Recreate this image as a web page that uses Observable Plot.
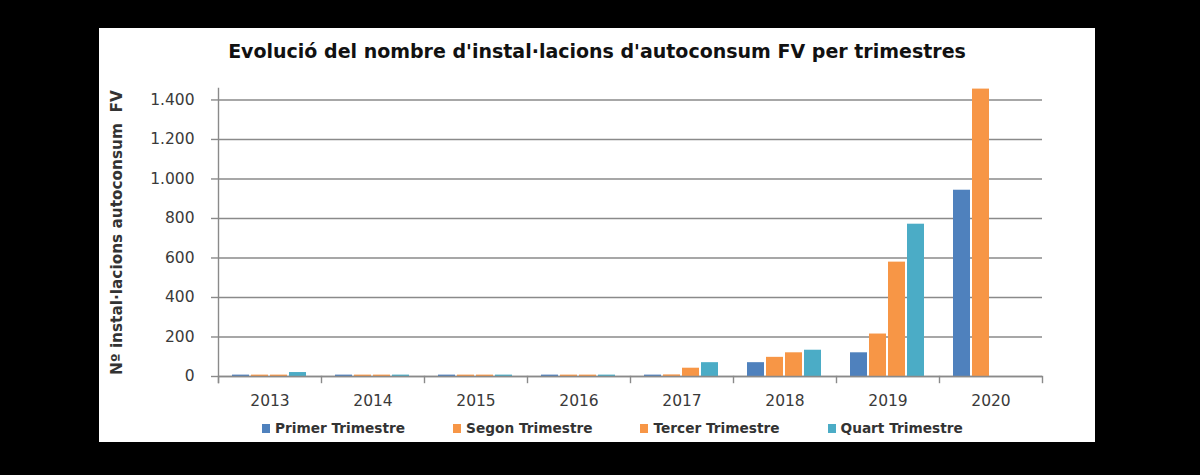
<!DOCTYPE html>
<html>
<head>
<meta charset="utf-8">
<script src="https://cdn.jsdelivr.net/npm/d3@7"></script>
<script src="https://cdn.jsdelivr.net/npm/@observablehq/plot@0.6"></script>
<style>
  html, body { margin: 0; padding: 0; background: #000; }
  body { width: 1200px; height: 475px; overflow: hidden; position: relative; font-family: "DejaVu Sans", sans-serif; }
  #panel { position: absolute; left: 99px; top: 28px; width: 996px; height: 414px; background: #fff; }
  #title { position: absolute; left: 0; top: 11px; width: 996px; text-align: center; font-size: 19px; line-height: 24px; font-weight: bold; color: #111; }
  #chart { position: absolute; left: 0; top: 50px; }
  #legend { position: absolute; left: 163px; top: 390px; height: 20px; display: flex; align-items: center; gap: 48px; font-size: 13.7px; font-weight: bold; color: #333; }
  .item { display: flex; align-items: center; gap: 5px; }
  .sw { width: 8px; height: 9px; display: inline-block; }
</style>
</head>
<body>
<div id="panel">
  <div id="title"></div>
  <div id="chart"></div>
  <div id="legend"></div>
</div>
<script>
// ---- data ----
const titleText = "Evolució del nombre d'instal·lacions d'autoconsum FV per trimestres";
const yLabel = "Nº instal·lacions autoconsum  FV";
const years = ["2013", "2014", "2015", "2016", "2017", "2018", "2019", "2020"];
const quarters = ["Primer Trimestre", "Segon Trimestre", "Tercer Trimestre", "Quart Trimestre"];
const primer = [7, 7, 7, 7, 7, 70, 120, 943];
const segon  = [7, 7, 7, 7, 8, 97, 215, 1455];
const tercer = [7, 7, 7, 7, 42, 120, 579, null];
const quart  = [20, 7, 7, 7, 70, 133, 771, null];
const yTicks = [0, 200, 400, 600, 800, 1000, 1200, 1400];
const colors = ["#4F81BD", "#F79646", "#F79646", "#4BACC6"];

const series = [primer, segon, tercer, quart];
const data = years.flatMap((yr, i) =>
  quarters.map((q, j) => ({year: yr, quarter: q, value: series[j][i]}))
).filter(d => d.value != null);

const fmt = d3.formatLocale({decimal: ",", thousands: ".", grouping: [3], currency: ["", "€"]}).format(",d");
const grey = "#8a8a8a";

document.getElementById("title").textContent = titleText;

const plotH = 334, mTop = 10, mBottom = 36;
const chart = Plot.plot({
  width: 996,
  height: plotH,
  marginTop: mTop,
  marginBottom: mBottom,
  marginLeft: 116,
  marginRight: 50,
  style: {fontFamily: "'DejaVu Sans', sans-serif", fontSize: "15.5px", color: "#3a3a3a", background: "transparent"},
  fx: {domain: years, padding: 0, label: null},
  x: {domain: quarters, paddingInner: 0.1, paddingOuter: 0.73, axis: null},
  y: {domain: [0, 1458], label: null},
  color: {domain: quarters, range: colors},
  marks: [
    Plot.gridY(yTicks, {stroke: grey, strokeOpacity: 1, strokeWidth: 1.4}),
    Plot.axisY(yTicks, {tickFormat: fmt, tickSize: 7, tickPadding: 17, stroke: grey, strokeWidth: 1.4, label: null}),
    Plot.axisFx({anchor: "bottom", tickSize: 0, tickPadding: 18, label: null}),
    Plot.barY(data, {fx: "year", x: "quarter", y: "value", fill: "quarter"}),
    Plot.ruleY([0], {stroke: grey, strokeWidth: 1.4}),
    Plot.frame({anchor: "left", facetAnchor: "left", stroke: grey, strokeWidth: 1.4, insetBottom: -6}),
    Plot.frame({anchor: "left", stroke: grey, strokeWidth: 1.4, insetTop: plotH - mTop - mBottom, insetBottom: -6}),
    Plot.frame({anchor: "right", facetAnchor: "right", stroke: grey, strokeWidth: 1.4, insetTop: plotH - mTop - mBottom, insetBottom: -6}),
    Plot.text([yLabel], {frameAnchor: "left", facetAnchor: "left", rotate: -90, dx: -101, textAnchor: "middle", fontWeight: "bold", fontSize: 15.3, fill: "#333"})
  ]
});
document.getElementById("chart").appendChild(chart);

const legend = document.getElementById("legend");
quarters.forEach((q, j) => {
  const it = document.createElement("div");
  it.className = "item";
  const sw = document.createElement("span");
  sw.className = "sw";
  sw.style.background = colors[j];
  const lb = document.createElement("span");
  lb.textContent = q;
  it.appendChild(sw);
  it.appendChild(lb);
  legend.appendChild(it);
});
</script>
</body>
</html>
